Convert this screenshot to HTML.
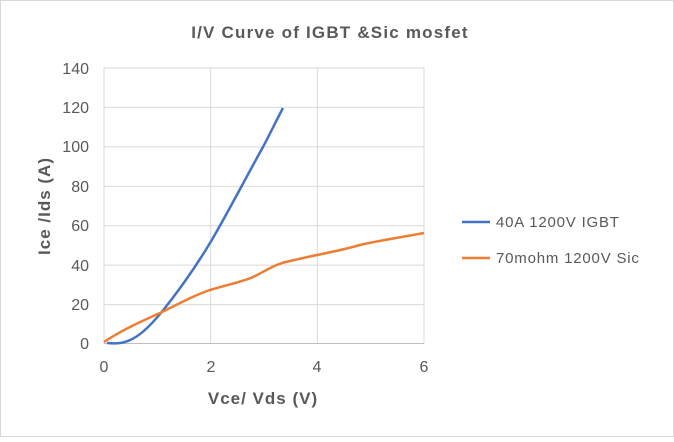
<!DOCTYPE html><html><head><style>body{margin:0;background:#fff}</style></head><body>
<svg width="674" height="437" xmlns="http://www.w3.org/2000/svg" font-family="Liberation Sans, sans-serif">
<rect x="0.5" y="0.5" width="673" height="436" fill="#fff" stroke="#d9d9d9"/>
<text x="330" y="38" text-anchor="middle" font-size="17" font-weight="bold" fill="#595959" letter-spacing="1.2">I/V Curve of IGBT &amp;Sic mosfet</text>
<g stroke="#d9d9d9" stroke-width="1">
<line x1="104" y1="68" x2="424" y2="68"/><line x1="104" y1="107.4" x2="424" y2="107.4"/><line x1="104" y1="146.9" x2="424" y2="146.9"/><line x1="104" y1="186.3" x2="424" y2="186.3"/><line x1="104" y1="225.7" x2="424" y2="225.7"/><line x1="104" y1="265.1" x2="424" y2="265.1"/><line x1="104" y1="304.6" x2="424" y2="304.6"/>
<line x1="104" y1="68" x2="104" y2="343"/><line x1="210.7" y1="68" x2="210.7" y2="343"/><line x1="317.3" y1="68" x2="317.3" y2="343"/><line x1="424" y1="68" x2="424" y2="343"/>
</g>
<line x1="104" y1="343.5" x2="424" y2="343.5" stroke="#bfbfbf"/>
<g font-size="16" fill="#595959" text-anchor="end">
<text x="89" y="74">140</text><text x="89" y="113">120</text><text x="89" y="152">100</text><text x="89" y="192">80</text><text x="89" y="231">60</text><text x="89" y="271">40</text><text x="89" y="310">20</text><text x="89" y="349">0</text></g>
<g font-size="16" fill="#595959" text-anchor="middle">
<text x="104" y="372">0</text><text x="211" y="372">2</text><text x="317" y="372">4</text><text x="424" y="372">6</text></g>
<text x="263" y="404" text-anchor="middle" font-size="17" font-weight="bold" fill="#595959" letter-spacing="1">Vce/ Vds (V)</text>
<text transform="translate(50 206) rotate(-90)" text-anchor="middle" font-size="17" font-weight="bold" fill="#595959" letter-spacing="1">Ice /Ids (A)</text>
<path d="M107,343 C118,344 124,343 130,340 C140,336 150,326 160,314 C175,296 195,268 210,243 C225,218 250,170 263,147 C270,134 276,121 283,108" fill="none" stroke="#4472c4" stroke-width="2.5"/>
<path d="M104,342 C122,330 140,322 160,313 C180,303 195,295 210,290 C230,284 245,281 253,277 C266,271 274,264 290,261 C310,256 340,251 360,245 C382,240 403,237 424,233" fill="none" stroke="#ed7d31" stroke-width="2.5"/>
<line x1="462" y1="222" x2="490" y2="222" stroke="#4472c4" stroke-width="2.5"/>
<text x="496" y="227" font-size="15" fill="#595959" letter-spacing="0.8">40A 1200V IGBT</text>
<line x1="462" y1="258" x2="490" y2="258" stroke="#ed7d31" stroke-width="2.5"/>
<text x="496" y="263" font-size="15" fill="#595959" letter-spacing="0.8">70mohm 1200V Sic</text>
</svg></body></html>
